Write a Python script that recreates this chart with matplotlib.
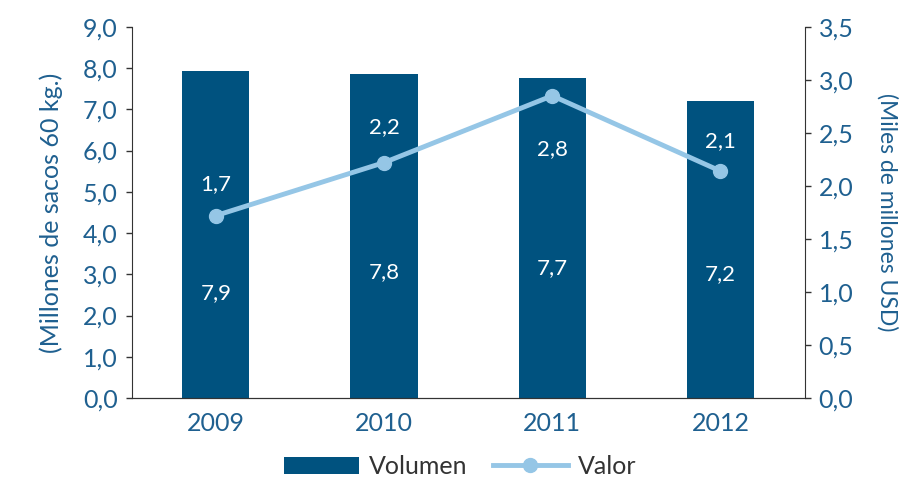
import matplotlib.pyplot as plt
import numpy as np

years = ["2009", "2010", "2011", "2012"]
volumen = [7.94, 7.86, 7.77, 7.21]
volumen_labels = ["7,9", "7,8", "7,7", "7,2"]
valor = [1.72, 2.22, 2.85, 2.14]
valor_labels = ["1,7", "2,2", "2,8", "2,1"]

bar_color = "#00527f"
line_color = "#95c6e6"
text_color = "#1f6090"

plt.rcParams['font.family'] = ['Lato', 'DejaVu Sans']

fig = plt.figure(figsize=(9.02, 4.79), dpi=100)
ax = fig.add_axes([0.146, 0.169, 0.746, 0.775])
ax2 = ax.twinx()

x = np.arange(len(years))
ax.bar(x, volumen, width=0.4, color=bar_color, label="Volumen", zorder=2)
ax2.plot(x, valor, color=line_color, lw=3.5, marker="o", markersize=10, label="Valor", zorder=3)

# label placement inside the bars
vol_label_y = [2.55, 3.05, 3.15, 3.0]
val_label_off = [0.3, 0.33, -0.5, 0.28]
for i, lab in enumerate(volumen_labels):
    ax.text(x[i], vol_label_y[i], lab, color="white", fontsize=16, ha="center", va="center")
for i, (v, lab) in enumerate(zip(valor, valor_labels)):
    ax2.text(x[i], v + val_label_off[i], lab, color="white", fontsize=16, ha="center", va="center")

ax.set_xlim(-0.5, 3.5)
ax.set_ylim(0, 9)
ax2.set_ylim(0, 3.5)
ax.set_yticks(np.arange(0, 9.1, 1))
ax.set_yticklabels([f"{v:.1f}".replace(".", ",") for v in np.arange(0, 9.1, 1)])
ax2.set_yticks(np.arange(0, 3.51, 0.5))
ax2.set_yticklabels([f"{v:.1f}".replace(".", ",") for v in np.arange(0, 3.51, 0.5)])
ax.set_xticks(x)
ax.set_xticklabels(years)

for a in (ax, ax2):
    a.spines["top"].set_visible(False)
    a.tick_params(colors="#333333", labelcolor=text_color, labelsize=18, length=4, width=1, pad=6)
ax.spines["right"].set_visible(False)
ax2.spines["left"].set_visible(False)
ax.tick_params(axis="x", length=0, pad=10)
for a in (ax, ax2):
    for s in a.spines.values():
        s.set_color("#333333")

ax.set_ylabel("(Millones de sacos 60 kg.)", color=text_color, fontsize=18, labelpad=14)
ax2.set_ylabel("(Miles de millones USD)", color=text_color, fontsize=16.5, rotation=270, labelpad=32)

h1, l1 = ax.get_legend_handles_labels()
h2, l2 = ax2.get_legend_handles_labels()
fig.legend(h1 + h2, l1 + l2, loc="lower center", bbox_to_anchor=(0.51, -0.045), ncol=2,
           frameon=False, fontsize=18, labelcolor="#333333", handlelength=3.0,
           handletextpad=0.4, columnspacing=1.0)

fig.savefig("out.png", dpi=100)
